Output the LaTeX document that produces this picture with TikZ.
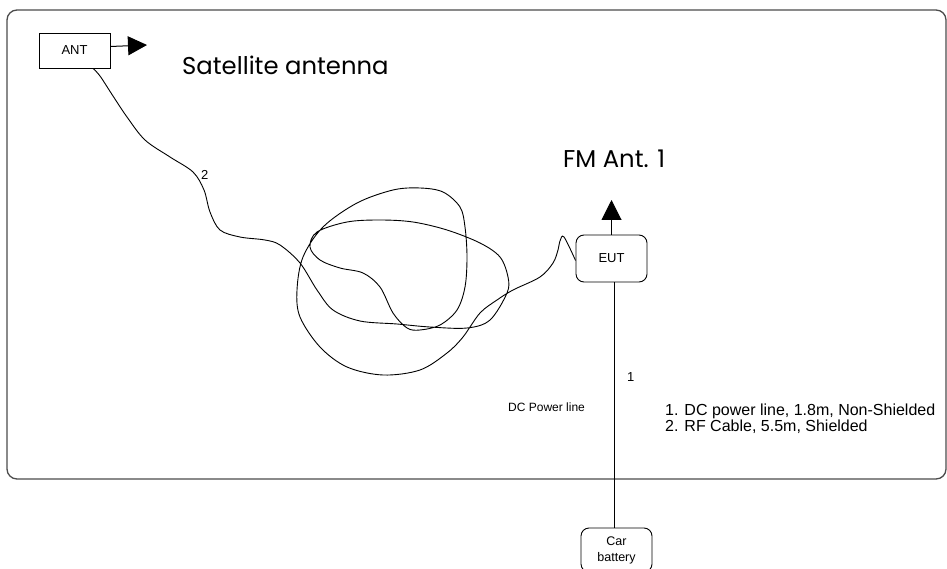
\documentclass[tikz,border=0pt]{standalone}
\usepackage{fontspec}
\setmainfont{Liberation Sans}
\newfontfamily\headfont{Poppins}
\usetikzlibrary{arrows.meta}
\begin{document}
\begin{tikzpicture}[x=1pt,y=-1pt,
  box/.style={draw=black, line width=0.9pt, minimum width=71pt, inner sep=0pt, font=\fontsize{13}{15}\selectfont},
  rbox/.style={box, rounded corners=8pt},
  head/.style={font=\headfont\fontsize{24.3}{28}\selectfont, inner sep=0pt, anchor=base west},
  lbl/.style={font=\fontsize{13}{15}\selectfont, inner sep=0pt, anchor=base west},
  cable/.style={line width=0.9pt, black},
  arr/.style={line width=1pt, -{Triangle[length=19pt,width=19pt]}}
]
\clip (0,0) rectangle (947,569);
\fill[white] (0,0) rectangle (947,569);
% frame
\draw[rounded corners=10pt, line width=1.3pt, draw=black!70] (7,10) rectangle (946,479);
% boxes
\node[box, minimum height=35pt] (ant) at (74.5,50.5) {ANT};
\node[rbox, minimum height=47pt] (eut) at (611.5,258.5) {EUT};
\node[rbox, minimum height=44pt, align=center, font=\fontsize{12.5}{16}\selectfont] (car) at (616.5,550) {Car\\battery};
% arrows
\coordinate (anttip) at (147,45);
\coordinate (fmtip) at (611.5,200);
\draw[arr] ([yshift=4pt]ant.east) -- (anttip);
\draw[arr, -{Triangle[length=20pt,width=20pt]}] (eut.north) -- (fmtip);
% power line
\draw[line width=0.9pt] ([xshift=2.5pt]eut.south) -- ([xshift=-2.5pt]car.north);
% headings
\node[head] (sat) at (182,75) {Satellite antenna};
\node[head] (fm) at (563,168) {FM Ant. 1};
% labels
\node[lbl] (two) at (201,180) {2};
\node[lbl] (one) at (627,381) {1};
\node[lbl, font=\fontsize{12}{14}\selectfont] (dcp) at (508,411) {DC Power line};
\node[lbl, font=\fontsize{16}{14}\selectfont, align=left, anchor=north west] (legend) at (665,404) {1. DC power line, 1.8m, Non-Shielded\\2. RF Cable, 5.5m, Shielded};
% cable
\draw[cable] plot[smooth, tension=0.55] coordinates {
 ([xshift=18.5pt]ant.south) (100,76) (113,96) (127,117) (145,140) (170,157) (193,172) (204,190) (210,212) (220,230) (240,237) (265,240) (280,245)
 (300,263) (317,290) (333,310) (360,321) (397,324) (430,327) (467,328) (490,320) (507,293) (508,277) (500,257) (480,243) (447,230) (413,222) (380,220) (347,222) (317,232) (310,247) (320,260) (340,268) (363,273) (380,287) (393,313) (407,328) (420,330) (440,325) (457,310) (465,287) (467,257) (465,227) (460,207) (443,192) (420,188) (393,190) (357,203) (323,227) (303,257) (297,290) (300,317) (320,347) (347,367) (383,375) (420,370) (447,353) (463,337) (480,313) (497,300) (513,290) (540,277) (553,263) (558,250) (560,241) (564,237) ([yshift=-2pt]eut.west)
};
\end{tikzpicture}
\end{document}
